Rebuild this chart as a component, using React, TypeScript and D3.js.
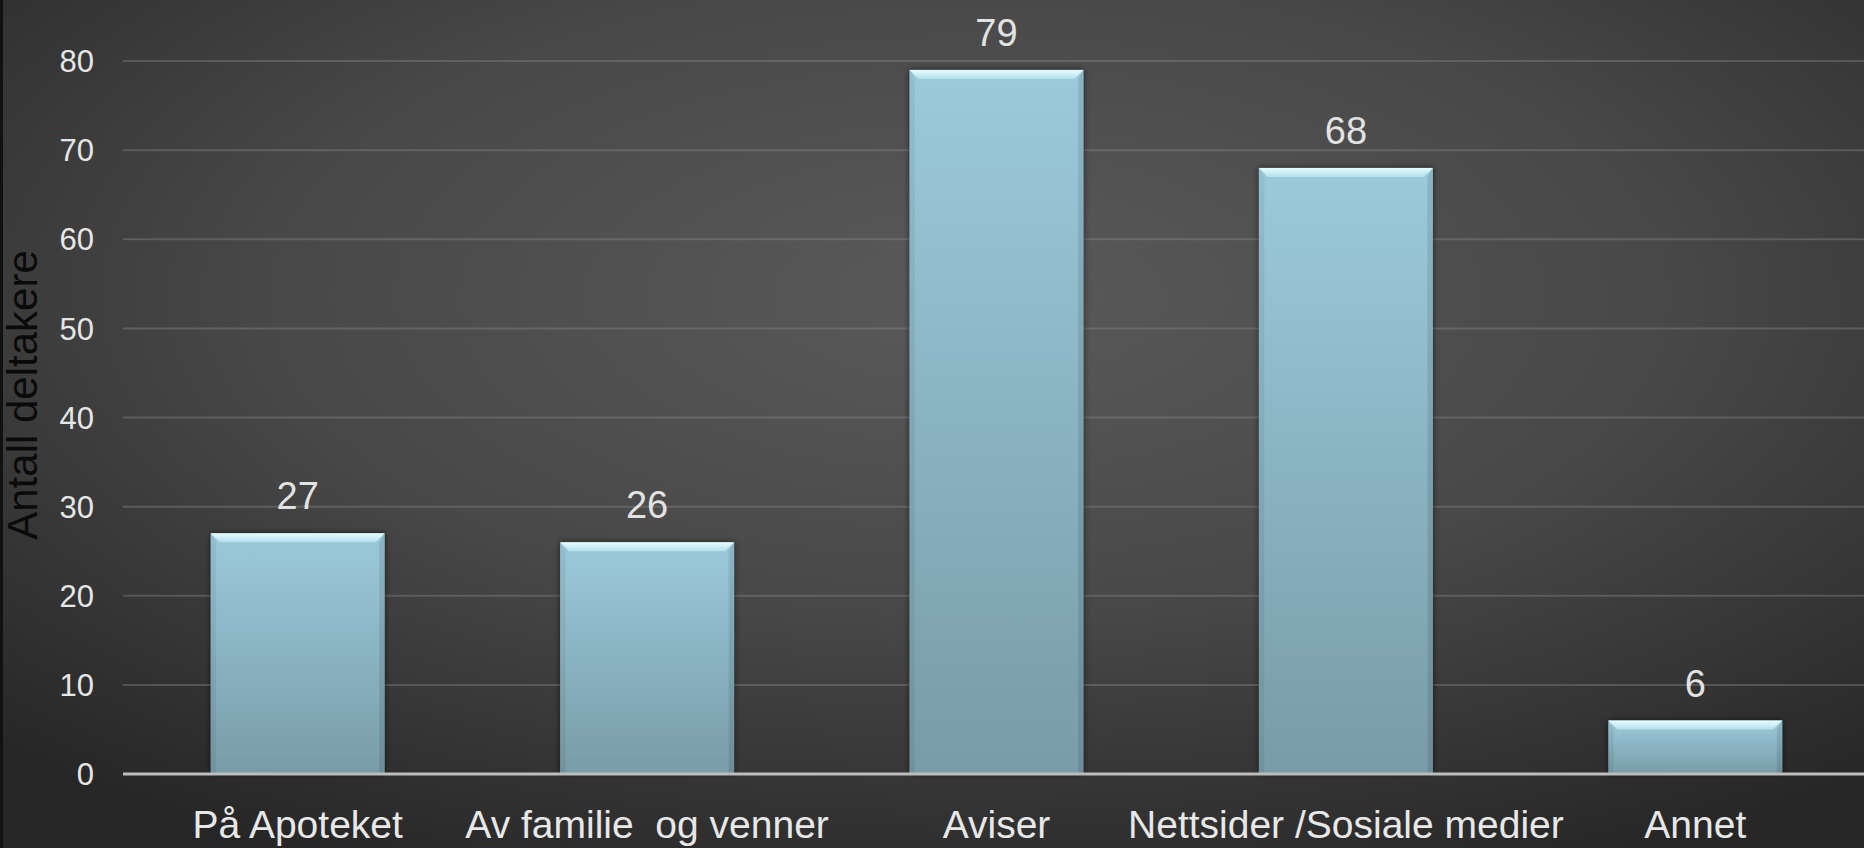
import React from "react";
import * as d3 from "d3";

const categories = ["På Apoteket", "Av familie  og venner", "Aviser", "Nettsider /Sosiale medier", "Annet"];
const values = [27, 26, 79, 68, 6];
const yTicks = [0, 10, 20, 30, 40, 50, 60, 70, 80];
const yTitle = "Antall deltakere";

const W = 1864;
const H = 848;

export default function App() {
  const x = d3
    .scaleBand<string>()
    .domain(categories)
    .range([123, 1870])
    .paddingInner(0.502)
    .paddingOuter(0.251);
  const y = d3.scaleLinear().domain([0, 80]).range([774, 61]);
  const bw = x.bandwidth();
  const font = "'Liberation Sans', Arial, sans-serif";
  const bevel = 9;

  return (
    <svg
      width={W}
      height={H}
      style={{ position: "absolute", left: 0, top: 0, display: "block" }}
    >
      <defs>
        <radialGradient id="bg" cx="0.52" cy="0.35" r="0.75" gradientUnits="objectBoundingBox">
          <stop offset="0" stopColor="#5a5a5a" />
          <stop offset="0.5" stopColor="#484848" />
          <stop offset="1" stopColor="#262626" />
        </radialGradient>
        <linearGradient id="barFill" x1="0" y1="0" x2="0" y2="1">
          <stop offset="0" stopColor="#9ccadb" />
          <stop offset="1" stopColor="#789ca8" />
        </linearGradient>
        <linearGradient id="bevelTop" x1="0" y1="0" x2="0" y2="1">
          <stop offset="0" stopColor="#e6fdff" />
          <stop offset="1" stopColor="#b4dfeb" />
        </linearGradient>
        <filter id="shadow" x="-10%" y="-10%" width="120%" height="120%">
          <feDropShadow dx="0" dy="0" stdDeviation="3" floodColor="#000" floodOpacity="0.6" />
        </filter>
      </defs>
      <rect x={0} y={0} width={W} height={H} fill="url(#bg)" />
      <rect x={0} y={0} width={3} height={H} fill="#111" />

      {yTicks.map((t) =>
        t === 0 ? null : (
          <line
            key={"g" + t}
            x1={123}
            x2={W}
            y1={y(t)}
            y2={y(t)}
            stroke="#8a8a8a"
            strokeOpacity={0.4}
            strokeWidth={2}
          />
        )
      )}

      {yTicks.map((t) => (
        <text
          key={"t" + t}
          x={94}
          y={y(t)}
          dy="0.36em"
          textAnchor="end"
          fontFamily={font}
          fontSize={31}
          fill="#e6e6e6"
        >
          {t}
        </text>
      ))}

      <text
        transform={`translate(37, 395) rotate(-90)`}
        textAnchor="middle"
        fontFamily={font}
        fontSize={42}
        fill="#0a0a0a"
      >
        {yTitle}
      </text>

      {categories.map((c, i) => {
        const x0 = x(c) as number;
        const yt = y(values[i]);
        const yb = y(0);
        return (
          <g key={c}>
            <rect
              x={x0}
              y={yt}
              width={bw}
              height={yb - yt}
              fill="url(#barFill)"
              filter="url(#shadow)"
            />
            <polygon
              points={`${x0},${yt} ${x0 + bw},${yt} ${x0 + bw - bevel},${yt + bevel} ${x0 + bevel},${yt + bevel}`}
              fill="url(#bevelTop)"
            />
            <polygon
              points={`${x0},${yt} ${x0 + bevel * 0.6},${yt + bevel} ${x0 + bevel * 0.6},${yb} ${x0},${yb}`}
              fill="#000"
              fillOpacity={0.06}
            />
            <polygon
              points={`${x0 + bw},${yt} ${x0 + bw - bevel * 0.6},${yt + bevel} ${x0 + bw - bevel * 0.6},${yb} ${x0 + bw},${yb}`}
              fill="#000"
              fillOpacity={0.1}
            />
            <text
              x={x0 + bw / 2}
              y={yt - 24}
              textAnchor="middle"
              fontFamily={font}
              fontSize={38}
              fill="#e2e2e2"
            >
              {values[i]}
            </text>
            <text
              x={x0 + bw / 2}
              y={838}
              textAnchor="middle"
              fontFamily={font}
              fontSize={39}
              fill="#e8e8e8"
              style={{ whiteSpace: "pre" }}
            >
              {c}
            </text>
          </g>
        );
      })}

      <line x1={123} x2={W} y1={y(0)} y2={y(0)} stroke="#bdbdbd" strokeWidth={3} />
    </svg>
  );
}
